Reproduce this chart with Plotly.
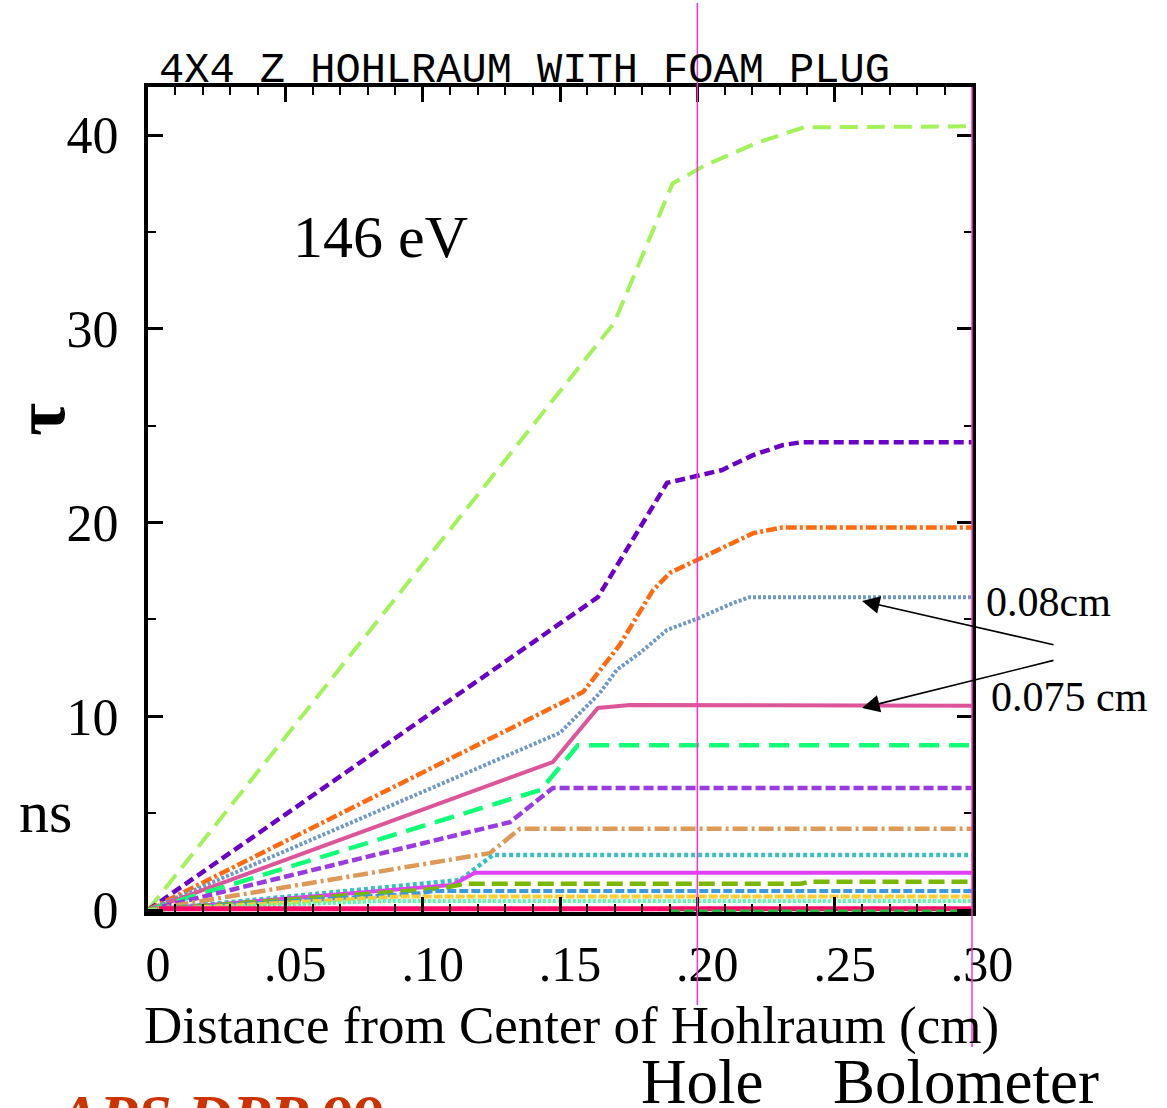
import plotly.graph_objects as go

W, H = 1167, 1108
L, R, T, B = 148, 972, 87, 912   # plot-area pixel box

# ---------------- data ----------------
x_tickvals = [0, 0.05, 0.10, 0.15, 0.20, 0.25, 0.30]
x_ticktext = ["0", ".05", ".10", ".15", ".20", ".25", ".30"]
y_tickvals = [0, 10, 20, 30, 40]
y_ticktext = ["0", "10", "20", "30", "40"]

lime_x = [0, 0.1697, 0.191, 0.203, 0.2217, 0.2388, 0.30]
lime_y = [0, 30.3, 37.5, 38.45, 39.6, 40.4, 40.45]

violet_x = [0, 0.1638, 0.189, 0.201, 0.2088, 0.2203, 0.2312, 0.238, 0.30]
violet_y = [0, 16.15, 22.05, 22.45, 22.7, 23.48, 24.0, 24.15, 24.15]

orange_x = [0, 0.1584, 0.1718, 0.1838, 0.19, 0.201, 0.2203, 0.231, 0.30]
orange_y = [0, 11.25, 13.7, 16.5, 17.4, 18.15, 19.45, 19.75, 19.75]

steel_x = [0, 0.15, 0.1645, 0.1707, 0.179, 0.1889, 0.201, 0.213, 0.2191, 0.30]
steel_y = [0, 9.15, 11.2, 12.4, 13.26, 14.45, 15.1, 15.85, 16.15, 16.15]

rose_x = [0, 0.1474, 0.1638, 0.1755, 0.30]
rose_y = [0, 7.64, 10.43, 10.58, 10.55]

spring_x = [0, 0.143, 0.1565, 0.30]
spring_y = [0, 6.2, 8.5, 8.5]

purple_x = [0, 0.1318, 0.1474, 0.30]
purple_y = [0, 4.54, 6.3, 6.3]

tan_x = [0, 0.1245, 0.1354, 0.30]
tan_y = [0, 2.94, 4.2, 4.2]

cyan_x = [0, 0.1136, 0.1256, 0.30]
cyan_y = [0, 1.55, 2.84, 2.84]

magenta_x = [0, 0.111, 0.119, 0.30]
magenta_y = [0, 1.3, 1.93, 1.93]

olive_x = [0, 0.107, 0.1154, 0.2377, 0.241, 0.30]
olive_y = [0, 1.12, 1.36, 1.36, 1.46, 1.46]

blue_x = [0, 0.100, 0.104, 0.30]
blue_y = [0, 0.88, 0.98, 0.98]

yellow_x = [0, 0.092, 0.30]
yellow_y = [0, 0.70, 0.70]

mint_x = [0, 0.085, 0.30]
mint_y = [0, 0.47, 0.47]

hotpink_x = [0.004, 0.30]
hotpink_y = [0.07, 0.07]

base_x = [0.19, 0.30]
base_y = [-0.03, -0.03]

# ---------------- styles ----------------
series = [
    (lime_x, lime_y, "#a3f25a", "18px,9px", 4),
    (violet_x, violet_y, "#6a00c8", "10px,5px", 4.5),
    (orange_x, orange_y, "#ff6a10", "11px,3px,3px,3px", 4.5),
    (steel_x, steel_y, "#6f98c8", "3px,2px", 4),
    (rose_x, rose_y, "#dd5599", "solid", 4),
    (spring_x, spring_y, "#11ff77", "20px,10px", 4.5),
    (purple_x, purple_y, "#9a3be0", "10px,4px", 4.5),
    (tan_x, tan_y, "#dd9958", "15px,4px,3px,4px", 4.5),
    (cyan_x, cyan_y, "#3cbfbf", "4px,3px", 4.5),
    (magenta_x, magenta_y, "#e040f5", "solid", 4),
    (olive_x, olive_y, "#7ab800", "16px,7px", 4.5),
    (blue_x, blue_y, "#3b99dd", "9px,3px", 4),
    (yellow_x, yellow_y, "#ffcc33", "9px,2px", 4),
    (mint_x, mint_y, "#55ffaa", "3px,2px", 4),
    (hotpink_x, hotpink_y, "#ff0a66", "solid", 5),
    (base_x, base_y, "#22bb44", "10px,4px", 2.5),
]

fig = go.Figure()
for xs, ys, col, dash, w in series:
    fig.add_trace(go.Scatter(x=xs, y=ys, mode="lines",
                             line=dict(color=col, dash=dash, width=w),
                             hoverinfo="skip", showlegend=False))


def px(xp):
    return (xp - L) / (R - L)


def py(yp):
    return (B - yp) / (B - T)


serif = "Liberation Serif"

fig.update_layout(
    width=W, height=H,
    margin=dict(l=L, r=W - R, t=T, b=H - B, pad=0),
    paper_bgcolor="white", plot_bgcolor="white",
    showlegend=False,
    xaxis=dict(
        range=[0, 0.30], showgrid=False, zeroline=False,
        showline=True, linecolor="black", linewidth=4, mirror="ticks",
        ticks="inside", ticklen=15, tickwidth=3, tickcolor="black",
        tickvals=x_tickvals, ticktext=x_ticktext,
        tickfont=dict(family=serif, size=50, color="black"),
        ticklabelstandoff=5, ticklabelshift=10,
        minor=dict(ticks="inside", ticklen=8, tickwidth=1.5, dtick=0.01,
                   tickcolor="black", showgrid=False),
    ),
    yaxis=dict(
        range=[-0.1, 42.48], showgrid=False, zeroline=False,
        showline=True, linecolor="black", linewidth=4, mirror="ticks",
        ticks="inside", ticklen=15, tickwidth=3, tickcolor="black",
        tickvals=y_tickvals, ticktext=y_ticktext,
        tickfont=dict(family=serif, size=52, color="black"),
        ticklabelstandoff=15,
        minor=dict(ticks="inside", ticklen=8, tickwidth=1.5, dtick=5,
                   tickcolor="black", showgrid=False),
    ),
)

# vertical marker lines (Hole, Bolometer)
fig.add_shape(type="line", xref="paper", yref="paper",
              x0=0.20 / 0.30, x1=0.20 / 0.30, y0=py(3), y1=py(1005),
              line=dict(color="#ff33cc", width=1.5), layer="above")
fig.add_shape(type="line", xref="paper", yref="paper",
              x0=1.0, x1=1.0, y0=py(T), y1=py(1047),
              line=dict(color="#ff33cc", width=1.5), layer="above")

ann = []
ann.append(dict(text="4X4 Z HOHLRAUM WITH FOAM PLUG", x=px(157), y=py(71),
                xanchor="left", yanchor="middle",
                font=dict(family="Liberation Mono", size=42, color="black")))
ann.append(dict(text="146 eV", x=px(380), y=py(237), xanchor="center", yanchor="middle",
                font=dict(family=serif, size=60, color="black")))
ann.append(dict(text="0.08cm", x=px(984), y=py(602), xanchor="left", yanchor="middle",
                font=dict(family=serif, size=42, color="black")))
ann.append(dict(text="0.075 cm", x=px(989), y=py(697), xanchor="left", yanchor="middle",
                font=dict(family=serif, size=42, color="black")))
ann.append(dict(text="<b>τ</b>", x=px(40), y=py(420), xanchor="center", yanchor="middle",
                textangle=-90, font=dict(family=serif, size=72, color="black")))
ann.append(dict(text="ns", x=px(45), y=py(812), xanchor="center", yanchor="middle",
                font=dict(family=serif, size=60, color="black")))
ann.append(dict(text="Distance from Center of Hohlraum (cm)", x=px(571), y=py(1025),
                xanchor="center", yanchor="middle",
                font=dict(family=serif, size=53, color="black")))
ann.append(dict(text="Hole", x=px(702), y=py(1082), xanchor="center", yanchor="middle",
                font=dict(family=serif, size=63, color="black")))
ann.append(dict(text="Bolometer", x=px(966), y=py(1082), xanchor="center", yanchor="middle",
                font=dict(family=serif, size=63, color="black")))
ann.append(dict(text="<b><i>APS DPP 99</i></b>", x=px(52), y=py(1080),
                xanchor="left", yanchor="top",
                font=dict(family=serif, size=62, color="#cc3300")))

for a in ann:
    a.update(xref="paper", yref="paper", showarrow=False)
    fig.add_annotation(**a)

# arrows pointing to the 0.08 cm and 0.075 cm curves
fig.add_annotation(x=px(862), y=py(601), xref="paper", yref="paper",
                   ax=193, ay=44, axref="pixel", ayref="pixel", text="",
                   showarrow=True, arrowhead=2, arrowsize=2.2, arrowwidth=1.6,
                   arrowcolor="black")
fig.add_annotation(x=px(862), y=py(708), xref="paper", yref="paper",
                   ax=193, ay=-48, axref="pixel", ayref="pixel", text="",
                   showarrow=True, arrowhead=2, arrowsize=2.2, arrowwidth=1.6,
                   arrowcolor="black")

fig.write_html("out.html")
